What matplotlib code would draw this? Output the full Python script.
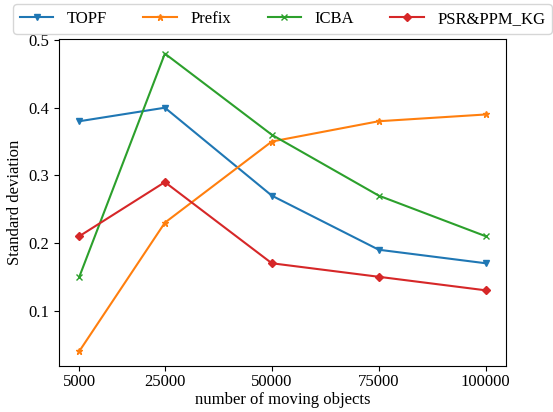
import matplotlib
matplotlib.use('Agg')
import matplotlib.pyplot as plt

plt.rcParams['font.family'] = ['Liberation Serif', 'DejaVu Serif']
plt.rcParams['font.size'] = 12

objects = [5000, 25000, 50000, 75000, 100000]
topf = [0.38, 0.40, 0.27, 0.19, 0.17]
prefix = [0.04, 0.23, 0.35, 0.38, 0.39]
icba = [0.15, 0.48, 0.36, 0.27, 0.21]
psr = [0.21, 0.29, 0.17, 0.15, 0.13]

fig = plt.figure(figsize=(5.53, 4.12), dpi=100)
ax = fig.add_axes([0.1067, 0.1115, 0.8083, 0.7945])

ax.plot(objects, topf, marker='v', markersize=5, label='TOPF')
ax.plot(objects, prefix, marker='*', markersize=5, label='Prefix')
ax.plot(objects, icba, marker='x', markersize=4, label='ICBA')
ax.plot(objects, psr, marker='D', markersize=4, label='PSR&PPM_KG')

ax.set_xticks(objects)
ax.set_xticklabels([str(o) for o in objects])
ax.set_yticks([0.1, 0.2, 0.3, 0.4, 0.5])
ax.tick_params(axis='x', pad=2.5)
ax.set_xlabel('number of moving objects', labelpad=1)
ax.set_ylabel('Standard deviation')

ax.legend(loc='lower center', bbox_to_anchor=(0.5, 1.0), ncol=4,
          columnspacing=2.2, handlelength=2.0, borderaxespad=0.3)

plt.savefig('out.png', dpi=100)
